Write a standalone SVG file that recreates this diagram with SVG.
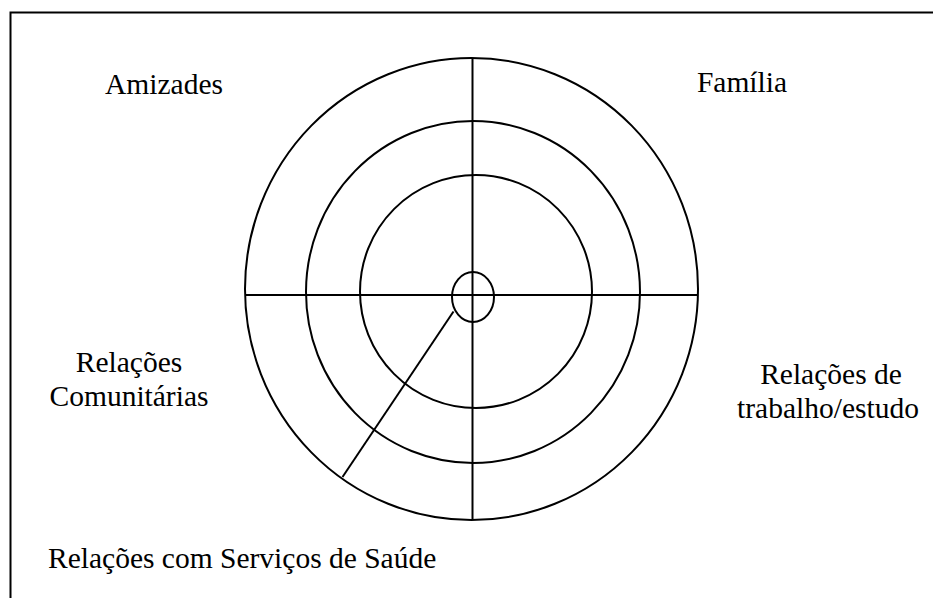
<svg xmlns="http://www.w3.org/2000/svg" width="933" height="598" viewBox="0 0 933 598">
<style>
.ln{fill:none;stroke:#000;stroke-width:2}
.t{font-family:"Liberation Serif","Times New Roman",serif;font-size:29.5px;fill:#000}
</style>
<rect x="0" y="0" width="933" height="598" fill="#fff"/>
<path class="ln" d="M10.5 598 V12.5 H933"/>
<g id="rings">
<ellipse id="outer" class="ln" cx="471.5" cy="289" rx="226.5" ry="231"/>
<ellipse id="middle" class="ln" cx="473" cy="292" rx="167" ry="171"/>
<ellipse id="inner" class="ln" cx="476" cy="291.5" rx="116" ry="116.5"/>
<ellipse id="core" class="ln" cx="473" cy="297" rx="21" ry="25"/>
</g>
<g id="connectors">
<line class="ln" x1="472.5" y1="58" x2="472.5" y2="520"/>
<line class="ln" x1="245" y1="295" x2="698" y2="295"/>
<line class="ln" x1="453.5" y1="311.5" x2="342.5" y2="477"/>
</g>
<g id="amizades"><text class="t" x="164" y="94" text-anchor="middle">Amizades</text></g>
<g id="familia"><text class="t" x="742" y="92" text-anchor="middle">Família</text></g>
<g id="comunitarias"><text class="t" x="129" y="372" text-anchor="middle">Relações</text><text class="t" x="129" y="406" text-anchor="middle">Comunitárias</text></g>
<g id="trabalho"><text class="t" x="831" y="384" text-anchor="middle">Relações de</text><text class="t" x="828" y="418" text-anchor="middle">trabalho/estudo</text></g>
<g id="saude"><text class="t" x="48" y="568">Relações com Serviços de Saúde</text></g>
</svg>
